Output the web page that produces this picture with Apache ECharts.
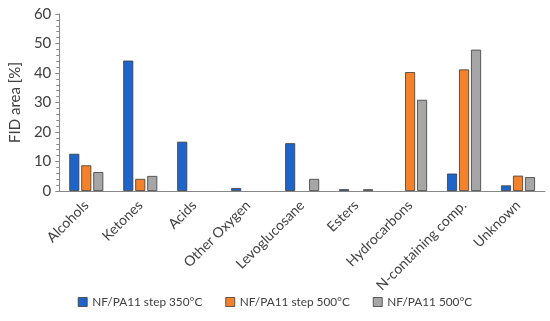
<!DOCTYPE html>
<html><head><meta charset="utf-8">
<script src="https://cdn.jsdelivr.net/npm/echarts@6/dist/echarts.min.js"></script>
<style>html,body{margin:0;padding:0;background:#fff}#c{width:550px;height:321px}</style>
</head><body><div id="c"></div>
<script>
const categories = ['Alcohols','Ketones','Acids','Other Oxygen','Levoglucosane','Esters','Hydrocarbons','N-containing comp.','Unknown'];
const step350 = [12.6, 44.2, 16.7, 1.0, 16.2, 0.6, null, 5.9, 1.9];
const step500 = [8.7, 4.1, null, null, null, null, 40.3, 41.2, 5.2];
const direct500 = [6.4, 5.1, null, null, 4.1, 0.6, 30.9, 47.9, 4.7];
const seriesNames = ['NF/PA11 step 350°C','NF/PA11 step 500°C','NF/PA11 500°C'];
const yTicks = [0, 10, 20, 30, 40, 50, 60];

const font = 'Lato, Open Sans, sans-serif';
const colors = ['#1f64c8', '#f5822a', '#a6a6a6'];
const chart = echarts.init(document.getElementById('c'));
const mk = (name, data, i) => ({
  name, type: 'bar', data, barWidth: 10, barGap: '20%',
  itemStyle: { color: colors[i], borderColor: '#3a3a3a', borderWidth: 0.8 }
});
chart.setOption({
  animation: false,
  textStyle: { fontFamily: font },
  grid: { left: 58, right: 5, top: 14, bottom: 130 },
  legend: {
    bottom: 8, left: 'center', itemWidth: 9, itemHeight: 9, itemGap: 23, itemTextGap: 2,
    icon: 'rect',
    textStyle: { fontSize: 11.8, color: '#404040', fontFamily: font },
    data: seriesNames.map((n, i) => ({ name: n, itemStyle: { borderColor: '#3a3a3a', borderWidth: 0.8 } }))
  },
  xAxis: {
    type: 'category', data: categories,
    axisLine: { lineStyle: { color: '#888', width: 1 } },
    axisTick: { show: false },
    axisLabel: { rotate: 45, fontSize: 14, color: '#404040', margin: 12, interval: 0 }
  },
  yAxis: {
    type: 'value', min: yTicks[0], max: yTicks[yTicks.length - 1], interval: 10,
    name: 'FID area [%]', nameLocation: 'middle', nameGap: 36,
    nameTextStyle: { fontSize: 15, color: '#404040' },
    axisLine: { show: true, lineStyle: { color: '#888' } },
    axisTick: { show: true, length: 4, lineStyle: { color: '#888' } },
    minorTick: { show: true, splitNumber: 5, length: 3, lineStyle: { color: '#888' } },
    splitLine: { show: false },
    axisLabel: { fontSize: 15, color: '#404040', margin: 8 }
  },
  series: [mk(seriesNames[0], step350, 0), mk(seriesNames[1], step500, 1), mk(seriesNames[2], direct500, 2)]
});
</script></body></html>
